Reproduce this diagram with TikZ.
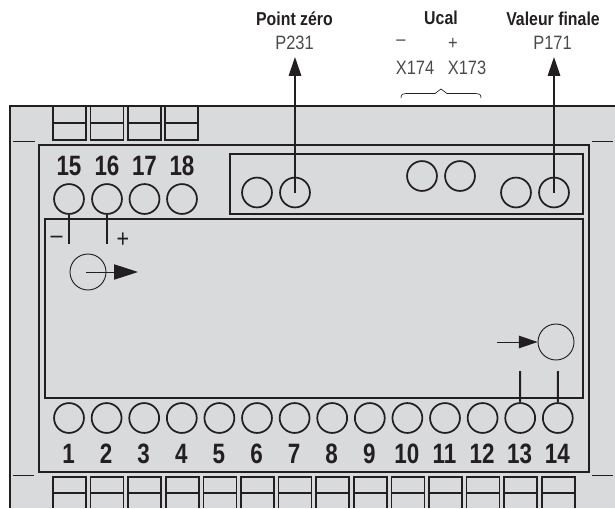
\documentclass[tikz,border=0pt]{standalone}
\usepackage{fontspec}
\setmainfont{Liberation Sans}
\newfontfamily\numfont[FakeStretch=0.8]{Liberation Sans}
\newfontfamily\labfont[FakeStretch=0.85]{Liberation Sans}
\usetikzlibrary{arrows.meta,positioning}
\definecolor{panelgray}{HTML}{D9DADC}
\definecolor{inkblack}{HTML}{231F20}
\definecolor{inkgray}{HTML}{4A4A4C}
\tikzset{
    term/.style={circle,draw=inkblack,line width=1.3pt,minimum size=22.4pt,inner sep=0pt},
    probe/.style={circle,draw=inkblack,line width=0.7pt,minimum size=27pt,inner sep=0pt},
    termnum/.style={inner sep=0pt,text=inkblack,font=\numfont\bfseries\fontsize{21}{21}\selectfont},
    headlab/.style={inner sep=0pt,text=inkblack,font=\labfont\bfseries\fontsize{14}{14}\selectfont},
    sublab/.style={inner sep=0pt,text=inkgray,font=\labfont\fontsize{14.5}{14.5}\selectfont},
    signlab/.style={inner sep=0pt,text=inkblack,font=\labfont\fontsize{19}{19}\selectfont},
    frame/.style={draw=inkblack,line width=1.5pt},
    clip box/.style={draw=inkblack,line width=1.3pt},
    stub/.style={draw=inkblack,line width=1.5pt},
    tick/.style={draw=inkblack,line width=0.6pt},
    pointer/.style={draw=inkblack,line width=1.1pt,-{Triangle[length=14.2pt,width=9.4pt]}}
}
\begin{document}
\begin{tikzpicture}[x=0.75pt,y=-0.75pt]
        \useasboundingbox (0,0) rectangle (615,508);
        % housing
        \fill[panelgray] (9,106) rectangle (615,508);
        \draw[frame] (10,508) -- (10,106) -- (615,106);
        \draw[tick] (13,141) -- (35,141);
        \draw[tick] (592,141) -- (613,141);
        \draw[tick] (13,475) -- (34,475);
        \draw[tick] (592,475) -- (613,475);
        % clips
        \foreach \i in {0,...,3} {
            \draw[clip box] ({53+37.4*\i},106) rectangle ({86+37.4*\i},140);
            \draw[clip box] ({53+37.4*\i},123) -- ({86+37.4*\i},123);
        }
        \foreach \i in {0,...,13} {
            \draw[clip box] ({53+37.6*\i},508) -- ({53+37.6*\i},477) -- ({86+37.6*\i},477) -- ({86+37.6*\i},508);
            \draw[clip box] ({53+37.6*\i},493) -- ({86+37.6*\i},493);
        }
        % frames
        \draw[frame] (39,145) rectangle (589,472);
        \draw[frame] (230,153.5) rectangle (583,214);
        \draw[frame] (45,219) rectangle (583,398);
        % terminals
        \foreach \n in {1,...,14} {
            \node[term] (t\n) at ({69+37.6*(\n-1)},418) {};
            \node[termnum] (num\n) at ({68.5+37.6*(\n-1)},454) {\n};
        }
        \foreach \n/\xpos in {15/69,16/107,17/144.5,18/182} {
            \node[term] (t\n) at (\xpos,199) {};
            \node[termnum] (num\n) at (\xpos,166) {\n};
        }
        % adjusters
        \node[term] (p232) at (257,192.5) {};
        \node[term] (p231) at (295,192.5) {};
        \node[term] (x174) at (422,176) {};
        \node[term] (x173) at (460,176) {};
        \node[term] (p172) at (516,192.5) {};
        \node[term] (p171) at (554,192.5) {};
        % labels
        \node[headlab] (zerohead) at (294.5,19) {Point zéro};
        \node[sublab] (zerosub) at (294.5,43) {P231};
        \node[headlab] (ucalhead) at (441,18) {Ucal};
        \node[sublab] (minussign) at (401,43) {–};
        \node[sublab] (plussign) at (453,44) {+};
        \node[sublab] (x174lab) at (415,68) {X174};
        \node[sublab] (x173lab) at (467,68) {X173};
        \node[headlab] (finalhead) at (553,19) {Valeur finale};
        \node[sublab] (finalsub) at (552.5,43) {P171};
        \draw[inkblack,line width=0.5pt] (401,98) .. controls (401,94) and (403,93.5) .. (406,93.5)
            -- (435,93.5) -- (441,89) -- (447,93.5) -- (476,93.5)
            .. controls (479,93.5) and (481,94) .. (481,98);
        % adjuster arrows
        \coordinate (zerotip) at (295,57);
        \coordinate (finaltip) at (554,57);
        \draw[pointer] (p231.center) -- (zerotip);
        \draw[pointer] (p171.center) -- (finaltip);
        % input side
        \coordinate (instubA) at (69,244);
        \coordinate (instubB) at (107,244);
        \draw[stub] (t15.south) -- (instubA);
        \draw[stub] (t16.south) -- (instubB);
        \node[signlab] (inminus) at (56.5,240) {–};
        \node[signlab] (inplus) at (123,240) {+};
        \node[probe] (inprobe) at (88,272) {};
        \coordinate (inbase) at (86,272);
        \coordinate (intip) at (138,272);
        \draw[inkblack,line width=0.7pt,-{Triangle[length=18pt,width=11.5pt]}] (inbase) -- (intip);
        % output side
        \node[probe] (outprobe) at (556,342) {};
        \coordinate (outbase) at (497,342);
        \draw[inkblack,line width=0.7pt,-{Triangle[length=14pt,width=9.4pt]}] (outbase) -- (outprobe.west);
        \coordinate (outstubA) at (520,371);
        \coordinate (outstubB) at (558,371);
        \draw[stub] (t13.north) -- (outstubA);
        \draw[stub] (t14.north) -- (outstubB);
\end{tikzpicture}
\end{document}
